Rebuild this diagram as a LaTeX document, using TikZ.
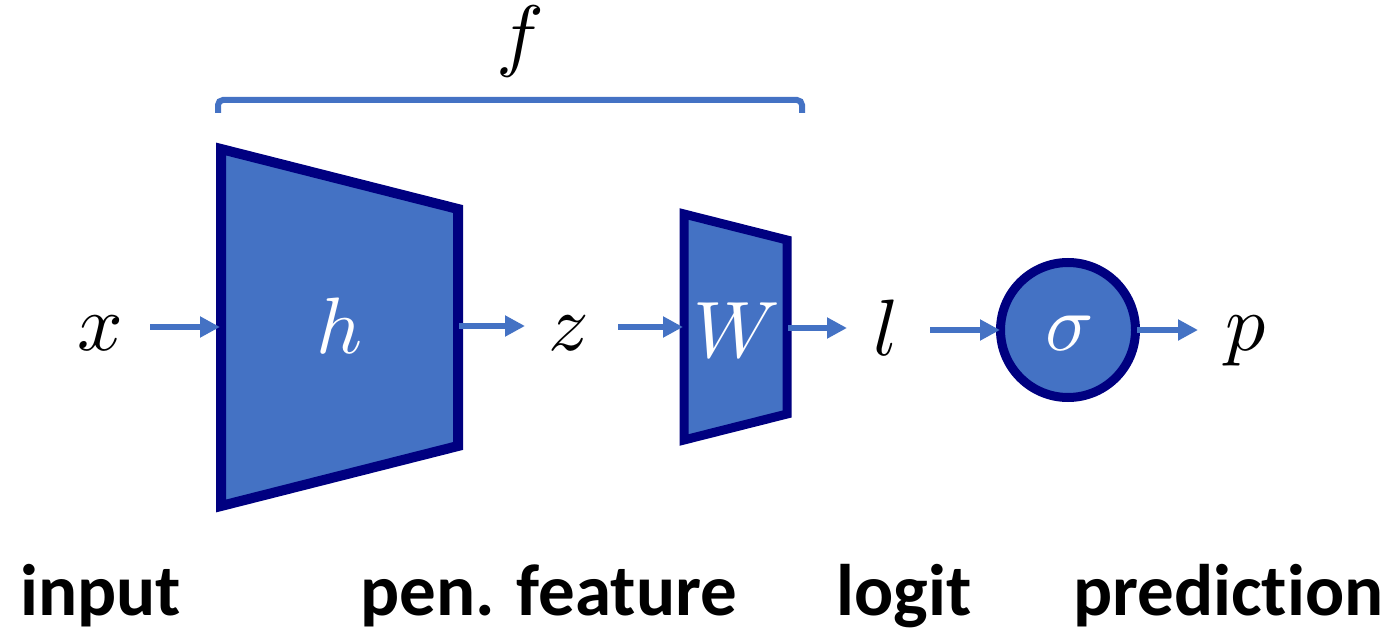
\documentclass[tikz,border=0pt]{standalone}
\usepackage{fontspec}
\newfontfamily\lblfont{Carlito}[Ligatures={NoCommon}]
\usetikzlibrary{arrows.meta}
\definecolor{fillblue}{HTML}{4472C4}
\definecolor{navyline}{HTML}{000080}
\tikzset{
  mathlbl/.style={anchor=base, inner sep=0pt, font=\fontsize{10}{12}\selectfont, scale=8},
  whitelbl/.style={mathlbl, text=white},
  bottomlbl/.style={anchor=base west, inner sep=0pt, font=\lblfont\bfseries\fontsize{73}{80}\selectfont},
  arr/.style={draw=fillblue, line width=6pt, -{Triangle[length=20pt,width=20pt]}},
  block/.style={draw=navyline, fill=fillblue, line width=10pt, line join=miter},
  brace/.style={draw=fillblue, line width=6pt, rounded corners=5pt}
}
\begin{document}
\begin{tikzpicture}[x=1pt,y=-1pt]
\useasboundingbox (0,0) rectangle (1394,631);
% blocks
\draw[block] (221,149) -- (458,209) -- (458,446) -- (221,506) -- cycle;
\draw[block, line width=9pt] (684,214) -- (787,240) -- (787,414) -- (684,440) -- cycle;
\node[draw=navyline, fill=fillblue, line width=9pt, circle, minimum size=135pt, inner sep=0pt] (sig) at (1068,330) {};
% bracket
\coordinate (bl) at (218,113);
\coordinate (br) at (802,113);
\draw[brace] (bl) -- (218,100) -- (802,100) -- (br);
\node[mathlbl] (f) at (520,62) {$f$};
% labels
\node[mathlbl] (x) at (100,350) {$x$};
\node[whitelbl] (h) at (340,353) {$h$};
\node[mathlbl] (z) at (569,350) {$z$};
\node[whitelbl] (W) at (737,357) {$W$};
\node[mathlbl] (l) at (886,355) {$l$};
\node[whitelbl] at (1070,350) {$\sigma$};
\node[mathlbl] (p) at (1246,350) {$p$};
% arrow endpoints
\coordinate (xo) at (150,327);
\coordinate (hi) at (220,327);
\coordinate (ho) at (459,326);
\coordinate (zi) at (525,326);
\coordinate (zo) at (618,327);
\coordinate (wi) at (683,327);
\coordinate (wo) at (788,328);
\coordinate (li) at (847,328);
\coordinate (lo) at (930,330);
\coordinate (si) at (1000,330);
\coordinate (so) at (1137,330);
\coordinate (pi) at (1198,330);
\draw[arr] (xo) -- (hi);
\draw[arr] (ho) -- (zi);
\draw[arr] (zo) -- (wi);
\draw[arr] (wo) -- (li);
\draw[arr] (lo) -- (si);
\draw[arr] (so) -- (pi);
% bottom labels
\node[bottomlbl] (t1) at (20,615) {input};
\node[bottomlbl] (t2) at (360,615) {pen. feature};
\node[bottomlbl] (t3) at (836,615) {logit};
\node[bottomlbl] (t4) at (1073,615) {prediction};
\end{tikzpicture}
\end{document}
